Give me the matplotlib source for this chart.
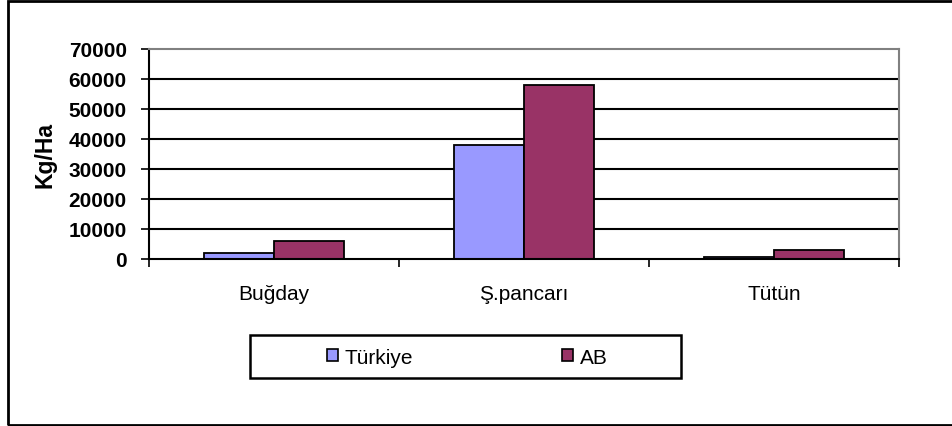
import numpy as np
import matplotlib
matplotlib.use("Agg")
import matplotlib.pyplot as plt
from matplotlib.patches import Rectangle, Patch

plt.rcParams['font.family'] = ['Liberation Sans', 'DejaVu Sans']

categories = ['Buğday', 'Ş.pancarı', 'Tütün']
turkiye = [1900, 38000, 700]
ab = [6000, 58000, 2800]
series_names = ['Türkiye', 'AB']
yticks = [0, 10000, 20000, 30000, 40000, 50000, 60000, 70000]

W, H = 952, 427
fig = plt.figure(figsize=(W / 100, H / 100), dpi=100)

# outer chart border (right side runs off the picture)
fig.patches.append(Rectangle((8 / W, 1 / H), 1.1, 424 / H, transform=fig.transFigure,
                             fill=False, edgecolor='black', linewidth=2, clip_on=False))

ax = fig.add_axes([149 / W, 1 - 259.7 / H, 750 / W, 210.2 / H])

x = np.arange(len(categories))
w = 0.28
ax.bar(x - w / 2, turkiye, width=w, color='#9999FF', edgecolor='black', linewidth=1.3, zorder=3)
ax.bar(x + w / 2, ab, width=w, color='#993366', edgecolor='black', linewidth=1.3, zorder=3)

ax.set_xlim(-0.5, len(categories) - 0.5)
ax.set_ylim(0, 70000)
ax.set_yticks(yticks)
ax.set_yticklabels([str(v) for v in yticks], fontsize=15, fontweight='bold')
ax.tick_params(axis='y', direction='out', length=6, width=1.2, pad=10)

ax.set_xticks(x)
ax.set_xticklabels(categories, fontsize=15)
ax.tick_params(axis='x', which='major', length=0, pad=18)
ax.set_xticks(np.arange(-0.5, len(categories)), minor=True)
ax.tick_params(axis='x', which='minor', direction='out', length=6, width=1.2)

for v in yticks[1:-1]:
    ax.axhline(v, color='black', linewidth=1.5, zorder=1)

ax.spines['left'].set_linewidth(1.5)
ax.spines['bottom'].set_linewidth(1.5)
ax.spines['bottom'].set_zorder(4)
for s in ['top', 'right']:
    ax.spines[s].set_color('#808080')
    ax.spines[s].set_linewidth(1.5)

ax.set_ylabel('Kg/Ha', fontsize=16.5, fontweight='bold', labelpad=9)

# legend box
fig.patches.append(Rectangle((250 / W, 1 - 379 / H), 431 / W, 43 / H, transform=fig.transFigure,
                             fill=False, edgecolor='black', linewidth=1.8))
handles = [Patch(facecolor='#9999FF', edgecolor='black', linewidth=1.2),
           Patch(facecolor='#993366', edgecolor='black', linewidth=1.2)]
fig.legend(handles, series_names, loc='center', bbox_to_anchor=(467 / W, 1 - 358 / H),
           ncol=2, frameon=False, fontsize=15, handlelength=0.55, handleheight=0.55,
           handletextpad=0.3, columnspacing=7.15)

fig.savefig('out.png', dpi=100)
